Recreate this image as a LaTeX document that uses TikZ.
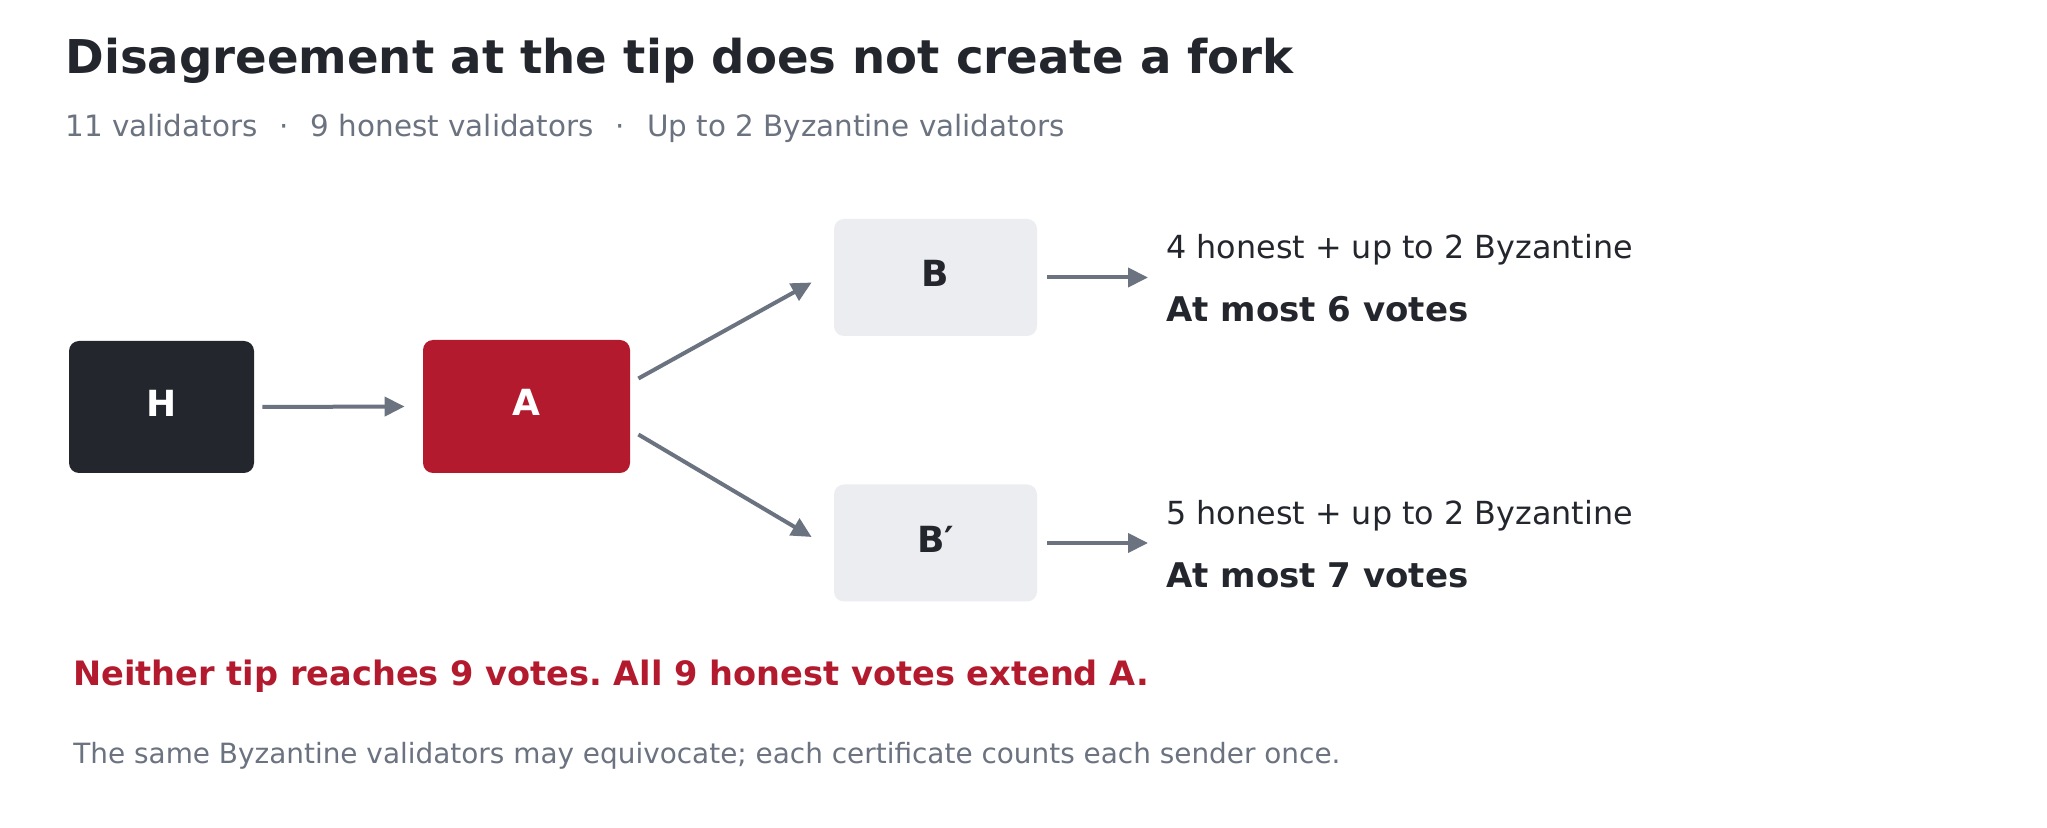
\documentclass[tikz,border=0pt]{standalone}
\usepackage{fontspec}
\setmainfont{DejaVu Sans}
\usetikzlibrary{arrows.meta}
\definecolor{encre}{HTML}{23262D}
\definecolor{rouge}{HTML}{B41A2E}
\definecolor{gris}{HTML}{6B7280}
\definecolor{clair}{HTML}{ECEDF1}
\frenchspacing
\begin{document}
\begin{tikzpicture}[x=0.5pt,y=-0.5pt,
  bloc/.style={rounded corners=5pt, inner sep=0pt, text depth=4pt, font=\fontsize{18}{21}\selectfont\bfseries},
  fleche/.style={draw=gris, line width=2pt, -{Triangle[length=10pt,width=9.5pt]}},
  texte/.style={anchor=base west, inner sep=0pt}]
\def\dy{265.5}
\useasboundingbox (0,0) rectangle (2047,828);
\fill[white] (0,0) rectangle (2047,828);

% Titre
\node[texte, text=encre, font=\fontsize{23.3}{27}\selectfont\bfseries] (titre) at (65,74) {Disagreement at the tip does not create a fork};
\node[texte, text=gris, font=\fontsize{14.7}{17}\selectfont] (sous) at (65,137) {11 validators\hspace{11pt}·\hspace{11pt}9 honest validators\hspace{11pt}·\hspace{11pt}Up to 2 Byzantine validators};

% Blocs
\node[bloc, fill=encre, text=white, minimum width=92.5pt, minimum height=66pt] (H) at (161.5,407) {H};
\node[bloc, fill=rouge, text=white, minimum width=103.5pt, minimum height=66.5pt] (A) at (526.5,406.5) {A};
\node[bloc, fill=clair, text=encre, minimum width=101.5pt, minimum height=58.5pt] (B) at (935.5,277.5) {B};
\node[bloc, fill=clair, text=encre, minimum width=101.5pt, minimum height=58.5pt] (Bp) at (935.5,277.5+\dy) {B′};
\coordinate (finB) at (1148,277.5);
\coordinate (finBp) at (1148,277.5+\dy);

% Fleches
\draw[fleche] ([shift={(8,0)}]H.east) -- ([shift={(-18,0)}]A.west);
\draw[fleche] ([shift={(8,-28)}]A.east) -- ([shift={(-22,5)}]B.west);
\draw[fleche] ([shift={(8,28)}]A.east) -- ([shift={(-22,-6)}]Bp.west);
\draw[fleche] ([shift={(10,0)}]B.east) -- (finB);
\draw[fleche] ([shift={(10,0)}]Bp.east) -- (finBp);

% Votes
\node[texte, text=encre, font=\fontsize{15.9}{19}\selectfont] (hB) at (1166,259) {4 honest + up to 2 Byzantine};
\node[texte, text=encre, font=\fontsize{17}{20}\selectfont\bfseries] (vB) at (1166,321.7) {At most 6 votes};
\node[texte, text=encre, font=\fontsize{15.9}{19}\selectfont] (hBp) at (1166,259+\dy) {5 honest + up to 2 Byzantine};
\node[texte, text=encre, font=\fontsize{17}{20}\selectfont\bfseries] (vBp) at (1166,321.7+\dy) {At most 7 votes};

% Conclusion
\node[texte, text=rouge, font=\fontsize{16.8}{20}\selectfont\bfseries] (conclusion) at (73,685) {Neither tip reaches 9 votes. All 9 honest votes extend A.};
\node[texte, text=gris, font=\fontsize{13.95}{17}\selectfont] (note) at (73,763) {The same Byzantine validators may equivocate; each certificate counts each sender once.};

\end{tikzpicture}
\end{document}
